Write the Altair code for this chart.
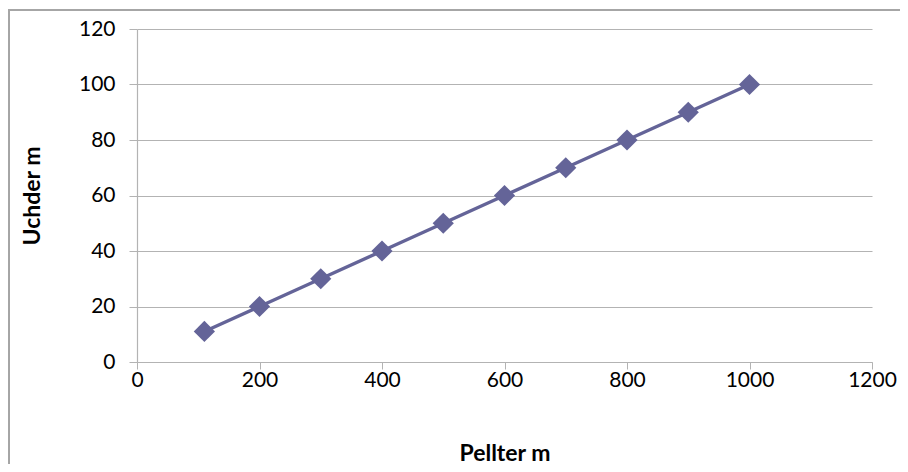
import altair as alt
import pandas as pd

pellter = [110, 200, 300, 400, 500, 600, 700, 800, 900, 1000]
uchder = [11, 20, 30, 40, 50, 60, 70, 80, 90, 100]

df = pd.DataFrame({"Pellter": pellter, "Uchder": uchder})

W, H = 735, 333
color = "#646498"
grid = "#b3b3b3"
font = "Lato"

x = alt.X("Pellter:Q", scale=alt.Scale(domain=[0, 1200], nice=False),
          axis=alt.Axis(values=list(range(0, 1201, 200)), title="Pellter m", format="d",
                        grid=False, labelFontSize=21, titleFontSize=23,
                        labelFlush=False, labelOverlap=False,
                        labelPadding=0, titlePadding=52, tickSize=7))
y = alt.Y("Uchder:Q", scale=alt.Scale(domain=[0, 120], nice=False),
          axis=alt.Axis(values=list(range(0, 121, 20)), title="Uchder m", format="d",
                        grid=True, labelFontSize=21, titleFontSize=23,
                        labelFlush=False, labelOverlap=False,
                        labelPadding=14, titlePadding=34, tickSize=8))

line = alt.Chart(df).mark_line(color=color, strokeWidth=3.4).encode(x=x, y=y)
pts = alt.Chart(df).mark_point(shape="diamond", filled=True, size=450,
                               color=color, opacity=1).encode(x=x, y=y)
border = alt.Chart(df).mark_rect(fill=None, stroke="#a6a6a6", strokeWidth=1.2,
                                 clip=False).encode(
    x=alt.value(-128), x2=alt.value(768), y=alt.value(-19), y2=alt.value(500))

chart = alt.layer(border, line, pts).properties(
    width=W, height=H,
    autosize=alt.AutoSizeParams(type="none"),
    padding={"left": 129, "top": 21, "right": 28, "bottom": 102},
).configure_view(stroke=None).configure_axis(
    domainColor=grid, tickColor=grid, gridColor=grid, domainWidth=1.2,
    labelFont=font, titleFont=font, labelColor="#000000", titleColor="#000000",
    titleFontWeight="bold"
)

chart.save("out.html", embed_options={"renderer": "svg", "actions": False})
